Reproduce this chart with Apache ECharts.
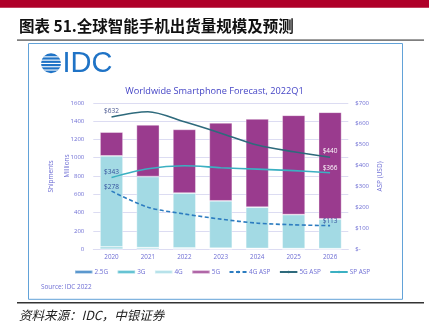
<!DOCTYPE html>
<html>
<head>
<meta charset="utf-8">
<script src="https://cdn.jsdelivr.net/npm/echarts@6/dist/echarts.min.js"></script>
<style>
  html, body { margin: 0; padding: 0; background: #fff; }
  #chart { width: 429px; height: 332px; }
</style>
</head>
<body>
<div id="chart"></div>
<script>
// Worldwide smartphone shipments (millions) by technology, with average selling prices (USD)
const years = ['2020', '2021', '2022', '2023', '2024', '2025', '2026'];
const ship25G = [5, 4, 3, 3, 2, 2, 2];
const ship3G = [20, 14, 11, 9, 8, 6, 5];
const ship4G = [995, 776, 600, 517, 450, 371, 324];
const ship5G = [260, 565, 696, 852, 964, 1085, 1166];
const asp4G = [278, 201, 169, 144, 125, 117, 113];
const asp5G = [632, 657, 609, 555, 498, 466, 440];
const aspSP = [343, 385, 399, 390, 383, 376, 366];
const shipTicks = { min: 0, max: 1600, interval: 200 };
const aspTicks = { min: 0, max: 700, interval: 100 };

const axisColor = '#6E6ED4';
const gridColor = '#DCDCF2';
const fontUI = '"Open Sans", "Noto Sans", sans-serif';

const colors = {
  g25: '#2D7BC0',
  g3: '#3AB2C7',
  g4: '#A3DAE4',
  g5: '#9A3B8E',
  asp4: '#2C7CC0',
  asp5: '#2E6A7C',
  aspSP: '#3BB0C2'
};

// label only the first and last point of each price line
function endLabels(values, startStyle, endStyle) {
  return values.map((v, i) => {
    if (i === 0) return { value: v, label: Object.assign({ show: true }, startStyle) };
    if (i === values.length - 1) return { value: v, label: Object.assign({ show: true }, endStyle) };
    return v;
  });
}
const lbl = (color, distance) => ({
  position: 'top', distance: distance, color: color, fontSize: 6.5,
  fontFamily: fontUI, textBorderWidth: 0, textShadowBlur: 0,
  formatter: p => '$' + p.value
});

const chart = echarts.init(document.getElementById('chart'), null, { renderer: 'canvas' });

function barSeries(name, data, color) {
  return {
    name: name, type: 'bar', stack: 'ship', data: data, barWidth: 23,
    itemStyle: { color: color, borderColor: 'rgba(255,255,255,0.45)', borderWidth: 0.8 },
    emphasis: { disabled: true }
  };
}
function lineSeries(name, data, color, dashed) {
  return {
    name: name, type: 'line', yAxisIndex: 1, data: data,
    symbol: 'circle', symbolSize: 0, showSymbol: true, smooth: 0.3,
    lineStyle: { color: color, width: 1.6, type: dashed ? [4, 2.5] : 'solid' },
    itemStyle: { color: color }, z: 5,
    emphasis: { disabled: true }
  };
}

chart.setOption({
  animation: false,
  title: {
    text: 'Worldwide Smartphone Forecast, 2022Q1',
    left: 'center', top: 82,
    textStyle: { color: '#4545C6', fontSize: 9.2, fontWeight: 'normal', fontFamily: fontUI }
  },
  grid: { left: 93.3, right: 429 - 348.3, top: 102.8, bottom: 332 - 249.3, containLabel: false },
  legend: {
    left: 69, top: 264, itemWidth: 17.5, itemHeight: 3, itemGap: 8.5,
    textStyle: { color: axisColor, fontSize: 6.4, fontFamily: fontUI, padding: [0, 0, 0, -3] },
    data: [
      { name: '2.5G', icon: 'rect' },
      { name: '3G', icon: 'rect' },
      { name: '4G', icon: 'rect' },
      { name: '5G', icon: 'rect' },
      { name: '4G ASP' },
      { name: '5G ASP' },
      { name: 'SP ASP' }
    ]
  },
  xAxis: {
    type: 'category', data: years,
    axisLine: { lineStyle: { color: gridColor } },
    axisTick: { show: false },
    axisLabel: { color: axisColor, fontSize: 6.3, fontFamily: fontUI, margin: 5 }
  },
  yAxis: [
    {
      type: 'value', min: shipTicks.min, max: shipTicks.max, interval: shipTicks.interval,
      axisLine: { show: false }, axisTick: { show: false },
      axisLabel: { color: axisColor, fontSize: 6, fontFamily: fontUI, margin: 9, formatter: v => String(v) },
      splitLine: { lineStyle: { color: gridColor, width: 1 } }
    },
    {
      type: 'value', min: aspTicks.min, max: aspTicks.max, interval: aspTicks.interval,
      position: 'right',
      axisLine: { show: false }, axisTick: { show: false },
      axisLabel: {
        color: axisColor, fontSize: 6, fontFamily: fontUI, margin: 7,
        formatter: v => v === 0 ? '$-' : '$' + v
      },
      splitLine: { show: false }
    }
  ],
  series: [
    barSeries('2.5G', ship25G, colors.g25),
    barSeries('3G', ship3G, colors.g3),
    barSeries('4G', ship4G, colors.g4),
    barSeries('5G', ship5G, colors.g5),
    lineSeries('4G ASP', endLabels(asp4G, lbl('#33509C', 0.5), lbl('#33509C', 1)), colors.asp4, true),
    lineSeries('5G ASP', endLabels(asp5G, lbl('#4A5890', 2), lbl('#FFFFFF', 3)), colors.asp5, false),
    lineSeries('SP ASP', endLabels(aspSP, lbl('#33509C', 1.5), lbl('#FFFFFF', 1.5)), colors.aspSP, false)
  ],
  graphic: [
    // report header band and rules
    { type: 'rect', shape: { x: 0, y: 0, width: 429, height: 7.7 }, style: { fill: '#AF0029' }, silent: true },
    {
      type: 'text', x: 19, y: 26,
      style: {
        text: '图表 51.全球智能手机出货量规模及预测', fill: '#111',
        font: 'bold 15.5px "Noto Sans CJK SC", sans-serif', verticalAlign: 'middle'
      }
    },
    { type: 'rect', shape: { x: 17, y: 39.3, width: 407, height: 1.6 }, style: { fill: '#7F7F7F' } },
    { type: 'rect', shape: { x: 28.5, y: 43.5, width: 374, height: 255.8 }, style: { fill: 'none', stroke: '#62A2D8', lineWidth: 1 }, z: -1 },
    { type: 'rect', shape: { x: 17, y: 302, width: 407, height: 1.4 }, style: { fill: '#333' } },
    {
      type: 'text', x: 19, y: 315.5,
      style: {
        text: '资料来源：IDC，中银证券', fill: '#222',
        font: 'italic 12.5px "Noto Sans CJK SC", sans-serif', verticalAlign: 'middle'
      }
    },
    // striped globe logo
    { type: 'circle', shape: { cx: 51, cy: 63.2, r: 10 }, style: { fill: '#1F73C6' } },
    { type: 'rect', shape: { x: 40, y: 56.3, width: 22, height: 1.1 }, style: { fill: '#fff' } },
    { type: 'rect', shape: { x: 40, y: 59.6, width: 22, height: 1.1 }, style: { fill: '#fff' } },
    { type: 'rect', shape: { x: 40, y: 62.9, width: 22, height: 1.1 }, style: { fill: '#fff' } },
    { type: 'rect', shape: { x: 40, y: 66.2, width: 22, height: 1.1 }, style: { fill: '#fff' } },
    { type: 'rect', shape: { x: 40, y: 69.5, width: 22, height: 1.1 }, style: { fill: '#fff' } },
    {
      type: 'text', x: 62.5, y: 63.5,
      style: { text: 'IDC', fill: '#1F73C6', font: '29px "Liberation Sans", Arial, sans-serif', verticalAlign: 'middle' }
    },
    // axis titles
    {
      type: 'text', x: 51, y: 176.5, rotation: Math.PI / 2,
      style: { text: 'Shipments', fill: axisColor, font: '6.5px "Open Sans", sans-serif', align: 'center', verticalAlign: 'middle' }
    },
    {
      type: 'text', x: 67, y: 166, rotation: Math.PI / 2,
      style: { text: 'Millions', fill: axisColor, font: '6.5px "Open Sans", sans-serif', align: 'center', verticalAlign: 'middle' }
    },
    {
      type: 'text', x: 380.5, y: 176.5, rotation: Math.PI / 2,
      style: { text: 'ASP (USD)', fill: axisColor, font: '6.5px "Open Sans", sans-serif', align: 'center', verticalAlign: 'middle' }
    },
    {
      type: 'text', x: 41, y: 287.3,
      style: { text: 'Source: IDC 2022', fill: axisColor, font: '6.4px "Open Sans", sans-serif', verticalAlign: 'middle' }
    }
  ]
});
</script>
</body>
</html>
